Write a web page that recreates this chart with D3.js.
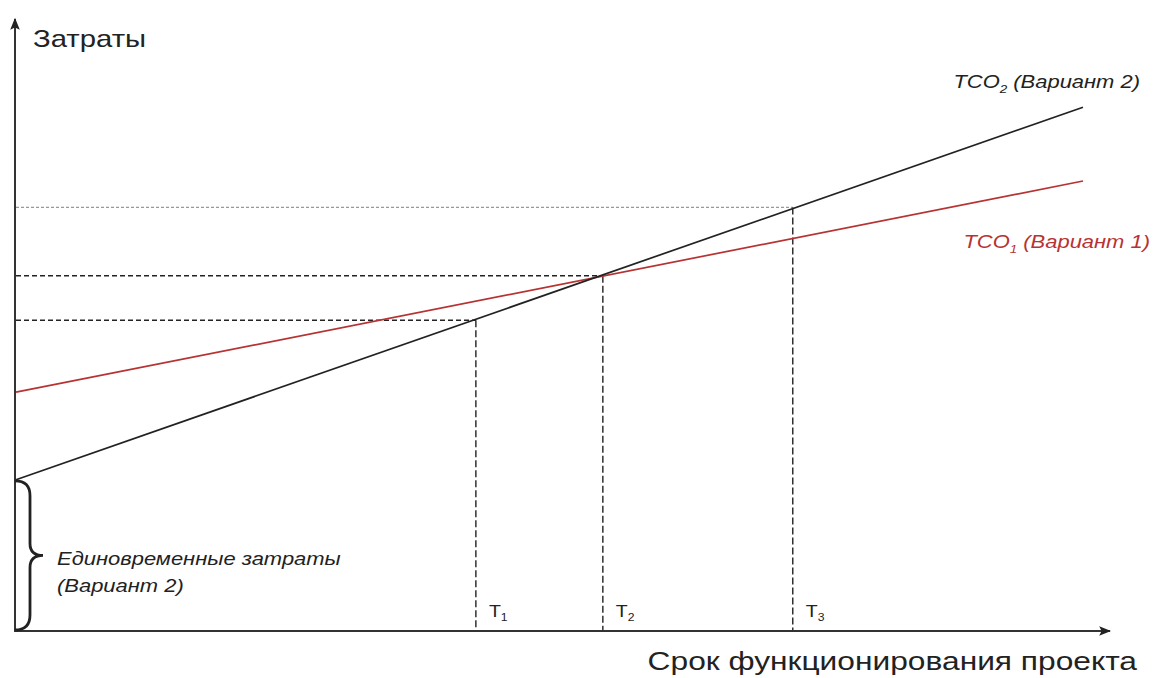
<!DOCTYPE html>
<html>
<head>
<meta charset="utf-8">
<script src="https://cdn.jsdelivr.net/npm/d3@7"></script>
<style>
body { margin:0; background:#fff; }
text { font-family: "Liberation Sans", Arial, sans-serif; }
</style>
</head>
<body>
<script>
// data (relative units)
var tco1 = [{x:0, y:3.98}, {x:10, y:7.5}];    // Вариант 1 (red)
var tco2 = [{x:0, y:2.52}, {x:10, y:8.73}];   // Вариант 2 (black)
var tMarks = [4.31, 5.5, 7.28];
var tCost = [5.18, 5.92, 7.06];
var tNames = ['1', '2', '3'];
var oneTime = [0, 2.52];

var W = 1153, H = 678;
var stretch = 1.22; // the original lettering is drawn wide
var svg = d3.select('body').append('svg').attr('width', W).attr('height', H);

var x = d3.scaleLinear().domain([0, 10]).range([16, 1083]);
var y = d3.scaleLinear().domain([0, 10]).range([631, 31]);

//text holder, wide letters
function label(px, py, anchor){
	return svg.append('g')
		.attr('transform', 'translate(' + px + ',' + py + ') scale(' + stretch + ',1)')
		.append('text').attr('text-anchor', anchor || 'start').attr('fill', '#222');
}

var defs = svg.append('defs');
defs.append('marker').attr('id', 'arr').attr('viewBox', '0 0 10 10')
	.attr('refX', 9).attr('refY', 5).attr('markerWidth', 12).attr('markerHeight', 12)
	.attr('markerUnits', 'userSpaceOnUse').attr('orient', 'auto')
	.append('path').attr('d', 'M0,1 L10,5 L0,9 L2,5 Z').attr('fill', '#222');

//guides
tMarks.forEach(function(t, i){
	var gy = y(tCost[i]);
	svg.append('line')
		.attr('x1', x(0)).attr('x2', x(t)).attr('y1', gy).attr('y2', gy)
		.attr('stroke', i === 2 ? '#999' : '#222')
		.attr('stroke-width', 1.4)
		.attr('stroke-dasharray', i === 2 ? '3,2' : '5,3');
	svg.append('line')
		.attr('x1', x(t)).attr('x2', x(t)).attr('y1', gy).attr('y2', y(0))
		.attr('stroke', '#222').attr('stroke-width', 1.4)
		.attr('stroke-dasharray', '7,3');
	var lab = label(x(t) + 13, y(0) - 14).attr('font-size', 16);
	lab.append('tspan').text('T');
	lab.append('tspan').attr('font-size', 10).attr('dy', 4).text(tNames[i]);
});

//lines
var line = d3.line().x(function(d){return x(d.x)}).y(function(d){return y(d.y)});
svg.append('path').datum(tco1).attr('d', line)
	.attr('fill', 'none').attr('stroke', '#b73333').attr('stroke-width', 1.7);
svg.append('path').datum(tco2).attr('d', line)
	.attr('fill', 'none').attr('stroke', '#222').attr('stroke-width', 1.7);

//axes
svg.append('line').attr('x1', x(0) - 1).attr('x2', x(0) - 1).attr('y1', y(0) + 1).attr('y2', 19)
	.attr('stroke', '#333').attr('stroke-width', 2).attr('marker-end', 'url(#arr)');
svg.append('line').attr('x1', x(0) - 2).attr('x2', 1110).attr('y1', y(0)).attr('y2', y(0))
	.attr('stroke', '#333').attr('stroke-width', 2).attr('marker-end', 'url(#arr)');

//brace
var bTop = y(oneTime[1]), bBot = y(oneTime[0]), bMid = (bTop + bBot) / 2;
var bx = x(0) - 1;
var brace = 'M' + bx + ',' + (bTop + 1) +
	' Q' + (bx + 15) + ',' + (bTop + 1) + ' ' + (bx + 15) + ',' + (bTop + 16) +
	' L' + (bx + 15) + ',' + (bMid - 12) +
	' Q' + (bx + 15) + ',' + bMid + ' ' + (bx + 28) + ',' + bMid +
	' Q' + (bx + 15) + ',' + bMid + ' ' + (bx + 15) + ',' + (bMid + 12) +
	' L' + (bx + 15) + ',' + (bBot - 16) +
	' Q' + (bx + 15) + ',' + (bBot - 1) + ' ' + bx + ',' + (bBot - 1);
svg.append('path').attr('d', brace).attr('fill', 'none')
	.attr('stroke', '#222').attr('stroke-width', 2.8);

//texts
label(33, 47).attr('font-size', 24).text('Затраты');
label(1137, 670, 'end').attr('font-size', 26).text('Срок функционирования проекта');

label(57, 565).attr('font-size', 18).attr('font-style', 'italic').text('Единовременные затраты');
label(57, 592).attr('font-size', 18).attr('font-style', 'italic').text('(Вариант 2)');

var l2 = label(1140, 88, 'end').attr('font-size', 18).attr('font-style', 'italic');
l2.append('tspan').text('TCO');
l2.append('tspan').attr('font-size', 11).attr('dy', 5).text('2');
l2.append('tspan').attr('dy', -5).text(' (Вариант 2)');

var l1 = label(1150, 248, 'end').attr('font-size', 18).attr('font-style', 'italic').attr('fill', '#b73333');
l1.append('tspan').text('TCO');
l1.append('tspan').attr('font-size', 11).attr('dy', 5).text('1');
l1.append('tspan').attr('dy', -5).text(' (Вариант 1)');
</script>
</body>
</html>
